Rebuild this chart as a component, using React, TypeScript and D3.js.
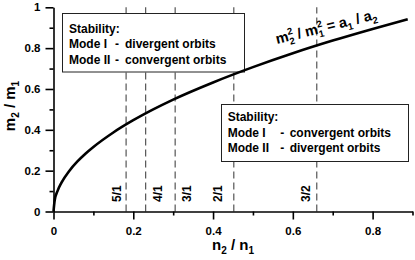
import React, { useEffect, useRef } from "react";
import * as d3 from "d3";

// curve m2/m1 vs n2/n1
const ratioN = [0, 0.003, 0.01, 0.02, 0.04, 0.06, 0.08, 0.1, 0.15, 0.2, 0.25, 0.3, 0.4, 0.5, 0.6, 0.7, 0.8, 0.888];
const ratioM = [0, 0.055, 0.1, 0.141, 0.2, 0.245, 0.283, 0.316, 0.387, 0.447, 0.5, 0.548, 0.632, 0.707, 0.775, 0.837, 0.894, 0.942];

// resonances (dashed lines)
const resonances = ["5/1", "4/1", "3/1", "2/1", "3/2"];
const resonanceN = [0.182, 0.231, 0.305, 0.452, 0.66];

const xTicks = [0, 0.2, 0.4, 0.6, 0.8];
const xMinor = [0.1, 0.3, 0.5, 0.7, 0.9];
const yTicks = [0, 0.2, 0.4, 0.6, 0.8, 1];
const yMinor = [0.1, 0.3, 0.5, 0.7, 0.9];

const boxTop = ["Stability:", "Mode I", "divergent orbits", "Mode II", "convergent orbits"];
const boxBottom = ["Stability:", "Mode I", "convergent orbits", "Mode II", "divergent orbits"];

const W = 415;
const H = 260;
const FONT = "'Liberation Sans', Arial, sans-serif";

export default function App() {
  const ref = useRef<SVGSVGElement>(null);

  useEffect(() => {
    const svg = d3.select(ref.current);
    svg.selectAll("*").remove();

    const x = d3.scaleLinear().domain([0, 0.9]).range([53.5, 412.5]);
    const y = d3.scaleLinear().domain([0, 1]).range([211.5, 7.3]);

    // dashed resonance lines
    const labelDx = [-5.5, 16, 16, -11.5, -6.5]; // which side the label sits
    const res = svg.append("g");
    resonanceN.forEach((n, i) => {
      res
        .append("line")
        .attr("x1", x(n))
        .attr("x2", x(n))
        .attr("y1", y(0))
        .attr("y2", y(1))
        .attr("stroke", "#555")
        .attr("stroke-width", 1.2)
        .attr("stroke-dasharray", "7,4");
      res
        .append("text")
        .attr("transform", `translate(${x(n) + labelDx[i]}, 202) rotate(-90)`)
        .attr("font-family", FONT)
        .attr("font-weight", "bold")
        .attr("font-size", 12)
        .text(resonances[i]);
    });

    // axes
    const xAxis = svg
      .append("g")
      .attr("transform", `translate(0, ${y(0)})`)
      .call(d3.axisBottom(x).tickValues(xTicks).tickSize(8).tickSizeOuter(0).tickPadding(7).tickFormat(d3.format("~g")));
    svg
      .append("g")
      .attr("transform", `translate(0, ${y(0)})`)
      .call(d3.axisBottom(x).tickValues(xMinor).tickSize(4).tickSizeOuter(0).tickFormat(() => ""))
      .call((g) => g.select(".domain").remove());
    const yAxis = svg
      .append("g")
      .attr("transform", `translate(${x(0)}, 0)`)
      .call(d3.axisLeft(y).tickValues(yTicks).tickSize(8).tickSizeOuter(0).tickPadding(5).tickFormat(d3.format("~g")));
    svg
      .append("g")
      .attr("transform", `translate(${x(0)}, 0)`)
      .call(d3.axisLeft(y).tickValues(yMinor).tickSize(4).tickSizeOuter(0).tickFormat(() => ""))
      .call((g) => g.select(".domain").remove());

    svg.selectAll(".domain, .tick line").attr("stroke", "#000").attr("stroke-width", 1.6);
    [xAxis, yAxis].forEach((g) =>
      g.selectAll("text").attr("font-family", FONT).attr("font-weight", "bold").attr("font-size", 11.5).attr("fill", "#000")
    );

    // axis titles
    const xt = svg
      .append("text")
      .attr("x", 233)
      .attr("y", 250)
      .attr("text-anchor", "middle")
      .attr("font-family", FONT)
      .attr("font-weight", "bold")
      .attr("font-size", 15);
    xt.append("tspan").text("n");
    xt.append("tspan").attr("font-size", 10).attr("dy", 4).text("2");
    xt.append("tspan").attr("dy", -4).text(" / n");
    xt.append("tspan").attr("font-size", 10).attr("dy", 4).text("1");

    const yt = svg
      .append("text")
      .attr("transform", "translate(15, 106) rotate(-90)")
      .attr("text-anchor", "middle")
      .attr("font-family", FONT)
      .attr("font-weight", "bold")
      .attr("font-size", 15);
    yt.append("tspan").text("m");
    yt.append("tspan").attr("font-size", 10).attr("dy", 4).text("2");
    yt.append("tspan").attr("dy", -4).text(" / m");
    yt.append("tspan").attr("font-size", 10).attr("dy", 4).text("1");

    // legend boxes
    const drawBox = (lines: string[], bx: number, by: number, bw: number, bh: number, tx: number, base: number[], dashDx: number, descDx: number) => {
      const g = svg.append("g").attr("font-family", FONT).attr("font-weight", "bold").attr("font-size", 12);
      g.append("rect").attr("x", bx).attr("y", by).attr("width", bw).attr("height", bh).attr("fill", "#fff").attr("stroke", "#222").attr("stroke-width", 1);
      g.append("text").attr("x", tx).attr("y", base[0]).text(lines[0]);
      [1, 3].forEach((k, j) => {
        g.append("text").attr("x", tx).attr("y", base[j + 1]).text(lines[k]);
        g.append("text").attr("x", tx + dashDx).attr("y", base[j + 1]).text("-");
        g.append("text").attr("x", tx + descDx).attr("y", base[j + 1]).text(lines[k + 1]);
      });
    };
    drawBox(boxTop, 62.5, 13.5, 182, 58.5, 69, [33, 48, 63.5], 46, 56);
    drawBox(boxBottom, 221.5, 104.5, 187, 57, 227.7, [121, 136.5, 152], 52.5, 62);

    // curve
    const pts = ratioN.map((n, i) => [n, ratioM[i]] as [number, number]);
    svg
      .append("path")
      .datum(pts)
      .attr("fill", "none")
      .attr("stroke", "#000")
      .attr("stroke-width", 2.6)
      .attr("d", d3.line<[number, number]>().x((d) => x(d[0])).y((d) => y(d[1])).curve(d3.curveMonotoneX));

    // curve label
    const cl = svg
      .append("text")
      .attr("transform", "translate(277, 44) rotate(-14)")
      .attr("font-family", FONT)
      .attr("font-weight", "bold")
      .attr("font-size", 14.5);
    cl.append("tspan").text("m");
    cl.append("tspan").attr("font-size", 9.5).attr("dy", 4).text("2");
    cl.append("tspan").attr("font-size", 9.5).attr("dx", -5.3).attr("dy", -10).text("2");
    cl.append("tspan").attr("dy", 6).text("  / m");
    cl.append("tspan").attr("font-size", 9.5).attr("dy", 4).text("1");
    cl.append("tspan").attr("font-size", 9.5).attr("dx", -5.3).attr("dy", -10).text("2");
    cl.append("tspan").attr("dy", 6).text(" = a");
    cl.append("tspan").attr("font-size", 9.5).attr("dy", 4).text("1");
    cl.append("tspan").attr("dy", -4).text(" / a");
    cl.append("tspan").attr("font-size", 9.5).attr("dy", 4).text("2");
  }, []);

  return (
    <svg
      ref={ref}
      width={W}
      height={H}
      style={{ position: "absolute", left: 0, top: 0, background: "#fff" }}
    />
  );
}
